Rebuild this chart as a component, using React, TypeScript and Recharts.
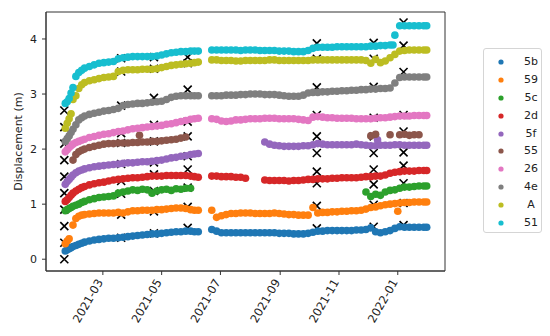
import { ScatterChart, Scatter, XAxis, YAxis, Legend, ReferenceArea } from "recharts";

// sample days, counted from 2021-01-01
const days = [
  20, 22, 24, 26, 28, 31, 34, 37, 40, 45, 50, 55, 60, 65, 70, 75, 80, 85, 90, 95,
  100, 105, 110, 115, 120, 125, 130, 135, 140, 145, 150, 154, 158,
  172, 177, 182, 187, 192, 197, 202, 207, 212, 217, 222, 227, 232, 237, 242, 247,
  252, 257, 262, 267, 272, 277, 282, 287, 292, 297, 302, 307, 312, 317, 322, 327,
  332, 337, 342, 347, 352, 357, 362, 367, 372, 377, 382, 387, 392, 395,
];

const s5b = [
  0.15, 0.17, 0.19, 0.21, 0.23, 0.25, 0.27, 0.29, 0.31, 0.33, 0.35, 0.36, 0.37, 0.38, 0.38, 0.39, 0.40, 0.41, 0.42, 0.43,
  0.44, 0.45, 0.46, 0.46, 0.47, 0.48, 0.49, 0.50, 0.50, 0.51, 0.51, 0.50, 0.50,
  0.54, 0.51, 0.48, 0.48, 0.48, 0.48, 0.48, 0.48, 0.48, 0.48, 0.48, 0.48, 0.48, 0.48, 0.47, 0.47,
  0.47, 0.46, 0.46, 0.46, 0.47, 0.49, 0.51, 0.51, 0.52, 0.52, 0.52, 0.52, 0.52, 0.52, 0.53, 0.53,
  0.54, 0.57, 0.50, 0.48, 0.50, 0.52, 0.56, 0.59, 0.58, 0.58, 0.58, 0.58, 0.58, 0.58,
];
const s59 = [
  0.28, 0.33, 0.37, null, 0.62, 0.74, 0.78, 0.80, 0.81, 0.82, 0.83, 0.84, 0.84, 0.84, 0.84, 0.85, 0.84, 0.86, 0.88, 0.88,
  0.89, 0.89, 0.89, 0.90, 0.90, 0.91, 0.92, 0.93, 0.93, 0.92, 0.90, 0.89, 0.89,
  0.89, 0.76, 0.79, 0.81, 0.83, 0.83, 0.84, 0.84, 0.84, 0.83, 0.83, 0.83, 0.83, 0.84, 0.83, 0.82,
  0.81, 0.81, 0.80, 0.80, 0.80, 0.94, 0.84, 0.85, 0.85, 0.86, 0.86, 0.87, 0.87, 0.88, 0.88, 0.89,
  0.91, 0.94, 0.95, 0.97, 0.99, 1.00, 1.01, 1.02, 1.03, 1.03, 1.04, 1.04, 1.04, 1.04,
];
const s5c = [
  0.88, 0.90, 0.92, 0.94, 0.96, 0.98, 1.00, 1.03, 1.05, 1.08, 1.10, 1.12, 1.13, 1.14, 1.15, 1.20, 1.22, 1.24, 1.26, 1.25,
  1.27, 1.26, 1.20, 1.24, 1.26, 1.27, 1.25, 1.28, 1.27, 1.29, 1.29, null, null,
  null, null, null, null, null, null, null, null, null, null, null, null, null, null, null, null,
  null, null, null, null, null, null, null, null, null, null, null, null, null, null, null, null,
  1.22, 1.14, 1.18, 1.16, 1.22, 1.25, 1.26, 1.29, 1.31, 1.31, 1.32, 1.33, 1.33, 1.33,
];
const s2d = [
  1.05, 1.08, 1.12, 1.16, 1.20, 1.24, 1.27, 1.30, 1.32, 1.35, 1.37, 1.39, 1.40, 1.42, 1.44, 1.45, 1.46, 1.47, 1.48, 1.48,
  1.49, 1.50, 1.51, 1.51, 1.51, 1.52, 1.52, 1.52, 1.52, 1.52, 1.51, 1.50, 1.49,
  1.51, 1.51, 1.50, 1.50, 1.50, 1.49, 1.49, 1.47, null, null, null, 1.44, 1.43, 1.43, 1.43, 1.43,
  1.42, 1.43, 1.43, 1.44, 1.45, 1.45, 1.46, 1.46, 1.46, 1.47, 1.47, 1.48, 1.48, 1.48, 1.48, 1.49,
  1.50, 1.50, 1.51, 1.51, 1.53, 1.56, 1.58, 1.59, 1.60, 1.60, 1.60, 1.61, 1.61, 1.61,
];
const s5f = [
  1.36, 1.41, 1.45, 1.49, 1.53, 1.57, 1.60, 1.62, 1.64, 1.66, 1.68, 1.69, 1.70, 1.71, 1.72, 1.73, 1.74, 1.75, 1.75, 1.76,
  1.77, 1.77, 1.78, 1.79, 1.80, 1.82, 1.84, 1.85, 1.87, 1.88, 1.90, 1.91, 1.92,
  null, null, null, null, null, null, null, null, null, null, null, 2.13, 2.09, 2.07, 2.06, 2.05,
  2.05, 2.05, 2.05, 2.06, 2.06, 2.08, 2.10, 2.09, 2.08, 2.08, 2.08, 2.08, 2.08, 2.08, 2.09, 2.08,
  2.07, 2.06, 2.06, 2.07, 2.07, 2.07, 2.08, 2.08, 2.07, 2.07, 2.07, 2.07, 2.07, 2.07,
];
const s55 = [
  null, null, null, null, 1.80, 1.90, 1.95, 1.98, 2.00, 2.03, 2.05, 2.07, 2.09, 2.10, 2.10, 2.11, 2.11, 2.11, 2.12, 2.12,
  2.13, 2.13, 2.14, 2.14, 2.15, 2.16, 2.17, 2.18, 2.20, 2.22, null, null, null,
  null, null, null, null, null, null, null, null, null, null, null, null, null, null, null, null,
  null, null, null, null, null, null, null, null, null, null, null, null, null, null, null, null,
  null, 2.24, 2.27, null, null, 2.26, null, 2.26, 2.27, 2.25, 2.26, 2.26, null, null,
];
const s26 = [
  1.95, 1.99, 2.03, 2.06, 2.09, 2.12, 2.14, 2.16, 2.18, 2.21, 2.23, 2.25, 2.27, 2.28, 2.30, 2.32, 2.33, 2.35, 2.37, 2.38,
  2.39, 2.40, 2.41, 2.42, 2.43, 2.45, 2.46, 2.48, 2.50, 2.52, 2.54, 2.55, 2.56,
  2.55, 2.54, 2.51, 2.50, 2.51, 2.53, 2.53, 2.54, 2.55, 2.55, 2.55, 2.56, 2.56, 2.56, 2.55, 2.55,
  2.55, 2.55, 2.54, 2.53, 2.52, 2.58, 2.59, 2.58, 2.57, 2.57, 2.56, 2.56, 2.56, 2.56, 2.55, 2.55,
  2.55, 2.55, 2.56, 2.57, 2.57, 2.58, 2.59, 2.60, 2.60, 2.60, 2.61, 2.61, 2.61, 2.61,
];
const s4e = [
  2.14, 2.19, 2.24, 2.30, 2.36, 2.44, 2.53, 2.57, 2.60, 2.63, 2.65, 2.67, 2.69, 2.70, 2.72, 2.74, 2.79, 2.81, 2.82, 2.83,
  2.83, 2.84, 2.85, 2.86, 2.87, 2.90, 2.94, 2.96, 2.97, 2.97, 2.97, 2.97, 2.97,
  2.97, 2.97, 2.97, 2.98, 2.98, 2.98, 2.99, 2.99, 3.00, 3.00, 3.00, 2.99, 2.99, 2.99, 2.98, 2.97,
  2.96, 2.96, 2.96, 2.98, 3.02, 3.03, 3.03, 3.04, 3.04, 3.05, 3.05, 3.06, 3.06, 3.07, 3.07, 3.08,
  3.08, 3.09, 3.09, 3.10, 3.10, 3.11, 3.20, 3.30, 3.31, 3.31, 3.31, 3.31, 3.31, 3.31,
];
const sA = [
  2.38, 2.47, 2.55, 2.64, 2.90, 2.97, 3.10, 3.17, 3.21, 3.24, 3.26, 3.28, 3.30, 3.31, 3.32, 3.41, 3.43, 3.44, 3.44, 3.44,
  3.45, 3.45, 3.45, 3.46, 3.48, 3.50, 3.52, 3.53, 3.54, 3.55, 3.56, 3.57, 3.58,
  3.62, 3.62, 3.61, 3.61, 3.61, 3.60, 3.60, 3.61, 3.61, 3.61, 3.61, 3.61, 3.62, 3.62, 3.61, 3.61,
  3.61, 3.61, 3.61, 3.61, 3.61, 3.62, 3.62, 3.62, 3.62, 3.62, 3.62, 3.62, 3.62, 3.62, 3.62, 3.62,
  3.61, 3.56, 3.63, 3.57, 3.60, 3.66, 3.72, 3.78, 3.79, 3.80, 3.80, 3.80, 3.80, 3.80,
];
const s51 = [
  2.83, 2.86, 2.92, 3.02, 3.12, 3.32, 3.39, 3.43, 3.47, 3.50, 3.53, 3.56, 3.57, 3.58, 3.59, 3.64, 3.66, 3.67, 3.68, 3.68,
  3.68, 3.68, 3.68, 3.69, 3.71, 3.73, 3.75, 3.76, 3.77, 3.77, 3.78, 3.78, 3.78,
  3.80, 3.80, 3.80, 3.80, 3.80, 3.80, 3.79, 3.80, 3.80, 3.80, 3.79, 3.79, 3.79, 3.79, 3.78, 3.78,
  3.78, 3.77, 3.77, 3.77, 3.79, 3.83, 3.85, 3.85, 3.85, 3.85, 3.86, 3.86, 3.86, 3.86, 3.86, 3.86,
  3.86, 3.87, 3.87, 3.88, 3.88, 3.89, 4.07, 4.24, 4.24, 4.24, 4.24, 4.24, 4.24, 4.24,
];

// odd single points off the grid
const extraPoints = [
  { name: "55", day: 97, value: 2.25 },
  { name: "59", day: 365, value: 0.87 },
  { name: "5f", day: 344, value: 2.17 },
  { name: "51", day: 360, value: 3.89 },
];

const seriesNames = ["5b", "59", "5c", "2d", "5f", "55", "26", "4e", "A", "51"];
const seriesValues = [s5b, s59, s5c, s2d, s5f, s55, s26, s4e, sA, s51];
const seriesColors = ["#1f77b4", "#ff7f0e", "#2ca02c", "#d62728", "#9467bd", "#8c564b", "#e377c2", "#7f7f7f", "#bcbd22", "#17becf"];

// black x reference marks: one column per date, one value per series
const markDays = [19, 78, 112, 147, 281, 340, 371];
const markValues = [
  [0, 0.3, 0.6, 0.9, 1.2, 1.5, 1.8, 2.1, 2.4, 2.7],
  [0.39, 0.81, 1.19, 1.42, 1.73, 2.11, 2.29, 2.79, 3.41, 3.65],
  [0.47, 0.87, 1.24, 1.54, 1.76, 2.14, 2.44, 2.93, 3.46, 3.67],
  [0.57, 0.95, 1.3, 1.63, 1.87, 2.23, 2.5, 3.08, 3.56, 3.67],
  [0.56, 0.97, 1.38, 1.59, 1.93, 2.23, 2.62, 3.12, 3.64, 3.92],
  [0.59, 0.99, 1.36, 1.63, 1.93, 2.23, 2.57, 3.13, 3.64, 3.93],
  [0.62, 1.02, 1.38, 1.7, 1.94, 2.32, 2.62, 3.4, 3.88, 4.3],
];

const tickDays = [59, 120, 181, 243, 304, 365];
const tickLabels = ["2021-03", "2021-05", "2021-07", "2021-09", "2021-11", "2022-01"];
const yTicks = [0, 1, 2, 3, 4];

const xDomain = [0, 414];
const yDomain = [-0.214, 4.49];

const font = "DejaVu Sans";
const textColor = "#222";
const frameColor = "#333";

const seriesData = seriesNames.map((name, i) =>
  days
    .map((d, j) => ({ day: d, value: seriesValues[i][j] }))
    .filter((p) => p.value !== null)
    .concat(extraPoints.filter((p) => p.name === name).map((p) => ({ day: p.day, value: p.value })))
);

const markData = markDays.flatMap((d, c) => markValues[c].map((v) => ({ day: d, value: v })));

const DateTick = ({ x, y, payload }: any) => {
  const label = tickLabels[tickDays.indexOf(payload.value)];
  return (
    <g transform={`translate(${x - 3},${y + 3})`}>
      <text transform="rotate(-60)" textAnchor="end" dy="0.35em" fontSize={11.5} fontFamily={font} fill={textColor}>
        {label}
      </text>
    </g>
  );
};

const Cross = ({ cx, cy }: any) => (
  <path
    d={`M${cx - 4},${cy - 4}L${cx + 4},${cy + 4}M${cx - 4},${cy + 4}L${cx + 4},${cy - 4}`}
    stroke="#000"
    strokeWidth={1.6}
  />
);

const LegendBox = () => (
  <div
    style={{
      width: 59,
      height: 185,
      boxSizing: "border-box",
      border: "1px solid #d5d5d5",
      borderRadius: 3,
      background: "#fff",
      paddingTop: 4,
      fontFamily: font,
      fontSize: 11,
      color: textColor,
    }}
  >
    {seriesNames.map((name, i) => (
      <div key={name} style={{ position: "relative", height: 17.9 }}>
        <svg width={8} height={8} style={{ position: "absolute", left: 13, top: 5 }}>
          <circle cx={4} cy={4} r={2.6} fill={seriesColors[i]} />
        </svg>
        <span style={{ position: "absolute", left: 34, width: 26, top: 1, textAlign: "center", lineHeight: "16px" }}>{name}</span>
      </div>
    ))}
  </div>
);

const App = () => {
  return (
    <div style={{ position: "absolute", left: 0, top: 0, width: 550, height: 336, background: "#fff" }}>
      <ScatterChart width={550} height={336} margin={{ top: 12, right: 105, bottom: 0, left: 0 }}>
        <XAxis
          type="number"
          dataKey="day"
          domain={xDomain}
          ticks={tickDays}
          allowDataOverflow
          height={65}
          tick={<DateTick />}
          tickSize={4}
          axisLine={{ stroke: frameColor }}
          tickLine={{ stroke: frameColor }}
        />
        <YAxis
          type="number"
          dataKey="value"
          domain={yDomain}
          ticks={yTicks}
          allowDataOverflow
          width={46}
          tickSize={4}
          tickMargin={5}
          tick={{ fontSize: 11, fontFamily: font, fill: textColor }}
          axisLine={{ stroke: frameColor }}
          tickLine={{ stroke: frameColor }}
          label={{
            value: "Displacement (m)",
            angle: -90,
            position: "insideLeft",
            offset: 18,
            style: { textAnchor: "middle", fontSize: 11, fontFamily: font, fill: textColor },
          }}
        />
        <ReferenceArea x1={xDomain[0]} x2={xDomain[1]} y1={yDomain[0]} y2={yDomain[1]} fill="none" stroke={frameColor} />
        <Scatter name="marks" data={markData} shape={<Cross />} isAnimationActive={false} legendType="none" />
        {seriesNames.map((name, i) => (
          <Scatter
            key={name}
            name={name}
            data={seriesData[i]}
            fill={seriesColors[i]}
            shape={(p: any) => <circle cx={p.cx} cy={p.cy} r={3.8} fill={seriesColors[i]} />}
            isAnimationActive={false}
          />
        ))}
        <Legend
          layout="vertical"
          align="center"
          verticalAlign="middle"
          content={() => <LegendBox />}
          wrapperStyle={{ left: 483, top: 48, width: 59, height: 185 }}
        />
      </ScatterChart>
    </div>
  );
};

export default App;
